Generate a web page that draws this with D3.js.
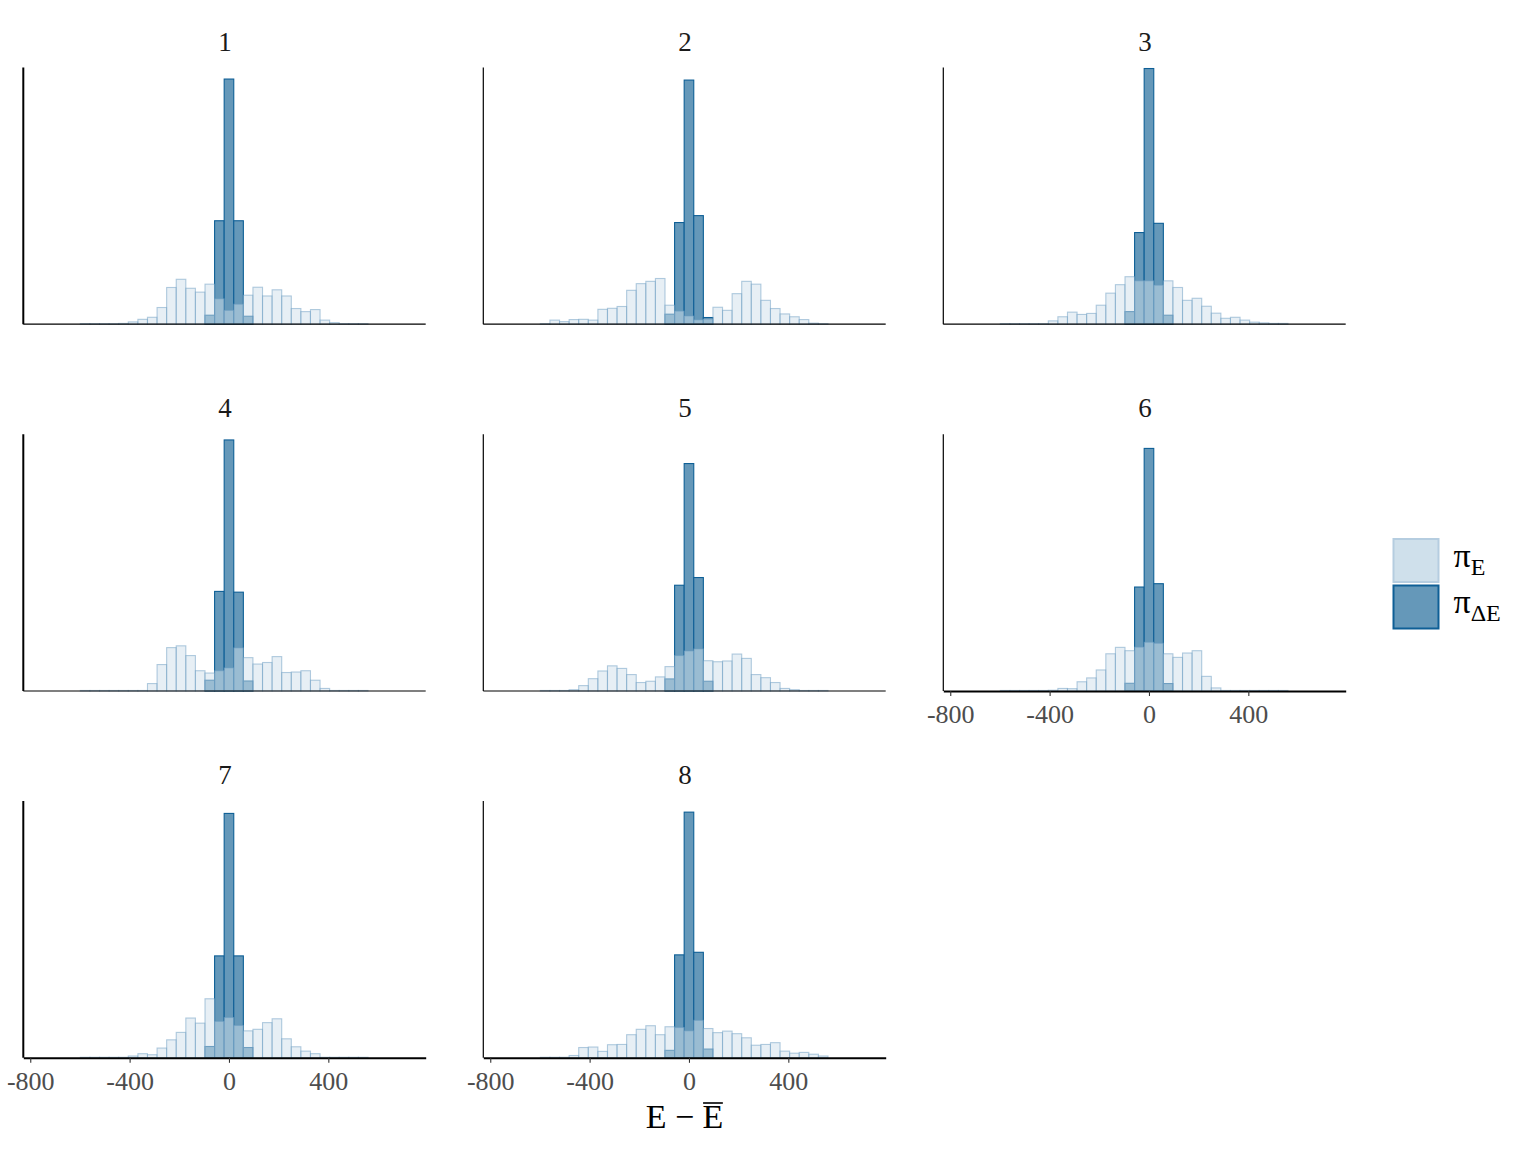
<!DOCTYPE html>
<html>
<head>
<meta charset="utf-8">
<script src="https://cdn.jsdelivr.net/npm/d3@7"></script>
<style>
  body { margin: 0; background: #fff; }
  svg { display: block; }
  text { font-family: "Liberation Serif", "DejaVu Serif", serif; }
</style>
</head>
<body>
<svg id="chart" width="1536" height="1152"></svg>
<script>
// ---------- data ----------
const facets = ["1", "2", "3", "4", "5", "6", "7", "8"];
const binCount = 30;
const binWidth = 38.6;          // bins centred on multiples of binWidth
const binCenterOffset = 15;     // bin index whose centre is 0
const xTicks = [-800, -400, 0, 400];
const xTickLabels = ["-800", "-400", "0", "400"];

const piE1 = [0.2,0.2,0.2,0.2,0.3,0.9,1.9,2.7,6.5,14.3,17.5,14.0,12.5,15.6,9.9,5.4,7.8,11.3,14.4,11.0,13.4,11.0,6.1,4.9,5.7,1.6,0.6,0.2,0.2,0.2];
const piE2 = [0.2,1.6,1.0,1.8,1.9,1.6,5.8,6.2,6.9,13.2,15.8,16.7,17.8,7.4,5.1,3.2,1.7,2.0,6.6,5.4,11.9,16.7,15.6,9.3,6.1,4.0,2.9,1.8,0.4,0.2];
const piE3 = [0.2,0.2,0.2,0.2,0.2,1.3,2.9,4.7,3.8,4.2,7.4,12.1,15.4,18.5,16.9,16.9,15.2,16.9,14.3,9.3,10.1,7.0,4.3,2.3,2.7,1.6,0.8,0.5,0.3,0.3];
const piE4 = [0.2,0.2,0.2,0.2,0.2,0.2,0.2,2.9,10.3,16.9,17.6,13.8,7.9,7.0,7.9,9.0,16.8,13.0,10.5,11.1,13.4,7.2,7.4,7.9,4.2,1.0,0.2,0.2,0.2,0.2];
const piE5 = [0.2,0.2,0.2,0.5,2.1,4.8,7.8,9.8,8.8,6.4,3.3,3.8,5.5,9.5,13.8,15.6,16.4,11.8,11.4,11.7,14.4,12.7,6.4,5.2,3.3,1.0,0.5,0.2,0.2,0.2];
const piE6 = [0.2,0.2,0.2,0.2,0.2,0.3,1.0,0.9,3.6,5.1,8.2,14.5,17.0,15.7,17.1,19.0,18.6,14.5,13.1,14.8,15.7,5.7,1.2,0.2,0.2,0.2,0.2,0.2,0.2,0.2];
const piE7 = [0.2,0.2,0.2,0.2,0.2,0.7,1.6,1.2,3.8,7.0,9.9,15.5,13.5,23.0,14.2,15.7,12.6,10.5,11.1,13.7,15.2,7.4,4.3,2.6,1.6,0.2,0.2,0.2,0.2,0.2];
const piE8 = [0.2,0.2,0.2,0.9,4.0,4.2,2.5,5.1,5.2,9.0,11.1,12.5,9.0,12.1,11.8,10.5,14.6,11.4,9.8,10.4,9.4,7.8,4.9,5.2,5.9,2.6,1.8,2.1,1.4,0.7];

const z13 = [0,0,0,0,0,0,0,0,0,0,0,0,0];
const z12 = [0,0,0,0,0,0,0,0,0,0,0,0];
const piDE1 = [...z13, 3.5, 40.3, 95.5, 40.3, 3.1, ...z12];
const piDE2 = [...z13, 3.9, 39.6, 95.1, 42.3, 2.6, ...z12];
const piDE3 = [...z13, 4.9, 35.7, 99.6, 39.3, 3.5, ...z12];
const piDE4 = [...z13, 4.2, 38.8, 97.8, 38.5, 3.9, ...z12];
const piDE5 = [...z13, 4.7, 41.2, 88.6, 44.2, 3.8, ...z12];
const piDE6 = [...z13, 3.0, 40.5, 94.5, 41.8, 2.9, ...z12];
const piDE7 = [...z13, 4.4, 39.7, 95.2, 39.7, 4.0, ...z12];
const piDE8 = [...z13, 2.9, 40.1, 95.7, 41.1, 3.4, ...z12];

const lightSeries = [piE1, piE2, piE3, piE4, piE5, piE6, piE7, piE8];
const darkSeries = [piDE1, piDE2, piDE3, piDE4, piDE5, piDE6, piDE7, piDE8];

// ---------- layout ----------
const svg = d3.select("#chart");
svg.append("rect").attr("width", 1536).attr("height", 1152).attr("fill", "#fff");

const ncol = 3;
const panelX0 = 23.3, panelW = 402.4, colStep = 460;
const panelY0 = 67.5, panelH = 256.7, rowStep = 366.8;

const x = d3.scaleLinear().domain([-828, 792]).range([0, panelW]);
const y = d3.scaleLinear().domain([0, 100]).range([panelH, 0]);

const darkFill = "#6598b9", darkStroke = "#0e5f96";
const lightFill = "rgb(207,224,235)", lightStroke = "#6a9cc2";

const nPanels = facets.length;
facets.forEach((name, p) => {
  const col = p % ncol, row = Math.floor(p / ncol);
  const g = svg.append("g")
    .attr("transform", `translate(${panelX0 + col * colStep},${panelY0 + row * rowStep})`);

  const bins = d3.range(binCount).map(i => ({
    x0: (i - binCenterOffset - 0.5) * binWidth,
    x1: (i - binCenterOffset + 0.5) * binWidth,
    light: lightSeries[p][i],
    dark: darkSeries[p][i]
  }));

  g.append("g").selectAll("rect")
    .data(bins.filter(b => b.dark > 0))
    .join("rect")
    .attr("x", b => x(b.x0))
    .attr("width", b => x(b.x1) - x(b.x0))
    .attr("y", b => y(b.dark))
    .attr("height", b => y(0) - y(b.dark))
    .attr("fill", darkFill)
    .attr("stroke", darkStroke)
    .attr("stroke-width", 1.1);

  g.append("g").selectAll("rect")
    .data(bins)
    .join("rect")
    .attr("x", b => x(b.x0))
    .attr("width", b => x(b.x1) - x(b.x0))
    .attr("y", b => y(b.light))
    .attr("height", b => y(0) - y(b.light))
    .attr("fill", lightFill)
    .attr("fill-opacity", 0.5)
    .attr("stroke", lightStroke)
    .attr("stroke-opacity", 0.5)
    .attr("stroke-width", 1.1);

  const hasBelow = p + ncol < nPanels;
  const thickY = col === 0;

  g.append("line")
    .attr("x1", 0).attr("x2", 0).attr("y1", 0).attr("y2", panelH)
    .attr("stroke", "#000").attr("stroke-width", thickY ? 2 : 1.2);

  if (!hasBelow) {
    const ax = g.append("g").attr("transform", `translate(0,${panelH})`)
      .call(d3.axisBottom(x).tickValues(xTicks).tickFormat((d, i) => xTickLabels[i])
        .tickSize(5).tickSizeOuter(0).tickPadding(9));
    ax.attr("font-family", null);
    ax.select(".domain").attr("stroke", "#000").attr("stroke-width", 2);
    ax.selectAll(".tick line").attr("stroke", "#333").attr("stroke-width", 1.1);
    ax.selectAll(".tick text")
      .attr("fill", "#4d4d4d")
      .style("font-family", '"Liberation Serif", serif')
      .style("font-size", "26px");
  } else {
    g.append("line")
      .attr("x1", 0).attr("x2", panelW).attr("y1", panelH).attr("y2", panelH)
      .attr("stroke", "#000").attr("stroke-width", 1.2);
  }

  g.append("text")
    .attr("x", panelW / 2 + 0.5)
    .attr("y", -17)
    .attr("text-anchor", "middle")
    .attr("fill", "#1a1a1a")
    .style("font-size", "27px")
    .text(name);
});

// axis title  E − Ē (overline drawn from measured glyph position)
const titleX = panelX0 + (2 * colStep + panelW) / 2;
const titleY = 1128;
const titleStr = "E \u2212 E";
const title = svg.append("text")
  .attr("x", titleX)
  .attr("y", titleY)
  .attr("text-anchor", "middle")
  .attr("fill", "#000")
  .style("font-size", "34px")
  .text(titleStr);
const tn = title.node();
const lastIdx = titleStr.length - 1;
const sx = tn.getStartPositionOfChar(lastIdx).x;
const ex = tn.getEndPositionOfChar(lastIdx).x;
svg.append("line")
  .attr("x1", sx + 0.5).attr("x2", ex - 0.5)
  .attr("y1", titleY - 25).attr("y2", titleY - 25)
  .attr("stroke", "#000").attr("stroke-width", 1.6);

// legend
const legend = svg.append("g").attr("transform", "translate(1393.5,539)");
const keyW = 45, keyH = 43, keyStep = 46.5;
const legendItems = [
  { fill: lightFill, stroke: "#b5cde0", main: "π", sub: "E" },
  { fill: darkFill, stroke: darkStroke, main: "π", sub: "ΔE" }
];
legendItems.forEach((it, i) => {
  legend.append("rect")
    .attr("x", 0).attr("y", i * keyStep)
    .attr("width", keyW).attr("height", keyH)
    .attr("fill", it.fill).attr("stroke", it.stroke).attr("stroke-width", 2);
  const t = legend.append("text")
    .attr("x", 60)
    .attr("y", i * keyStep + keyH / 2 + 6)
    .attr("fill", "#000")
    .style("font-size", "34px");
  t.append("tspan").text(it.main);
  t.append("tspan").attr("dy", 8).style("font-size", "24px").text(it.sub);
});
</script>
</body>
</html>
